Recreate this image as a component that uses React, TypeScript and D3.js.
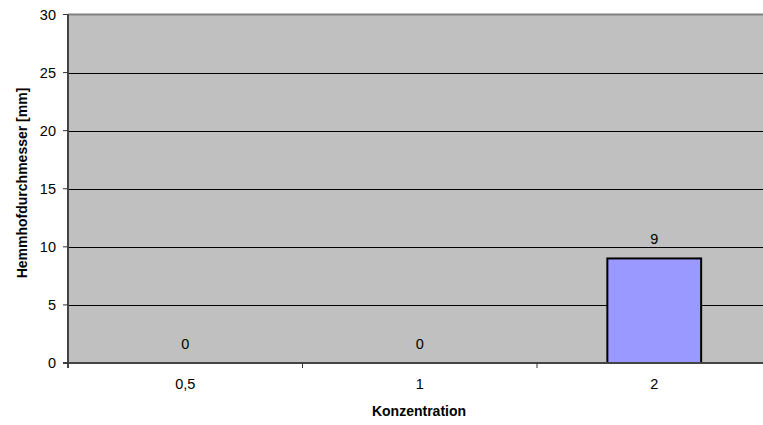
import React from "react";
import * as d3 from "d3";

const categories = ["0,5", "1", "2"];
const values = [0, 0, 9];
const yTicks = [0, 5, 10, 15, 20, 25, 30];

export default function App() {
  const W = 763, H = 425;
  const left = 68, top = 14.5, bottom = 363, right = 771.5;
  const x = d3.scaleBand().domain(categories).range([left, right]).paddingInner(0.6).paddingOuter(0.3);
  const xo = d3.scaleBand().domain(categories).range([left, right]);
  const y = d3.scaleLinear().domain([0, 30]).range([bottom, top]);
  const font = "'Liberation Sans', Arial, sans-serif";
  return (
    <div style={{ position: "fixed", left: 0, top: 0 }}>
      <svg width={W} height={H} style={{ display: "block" }}>
        <rect x={0} y={0} width={W} height={H} fill="#fff" />
        <rect x={left} y={top} width={right - left} height={bottom - top} fill="#C0C0C0" />
        {yTicks.filter(t => t > 0 && t < 30).map(t => (
          <line key={t} x1={left} x2={right} y1={Math.round(y(t)) + 0.5} y2={Math.round(y(t)) + 0.5} stroke="#000" strokeWidth={1} />
        ))}
        <line x1={left} x2={right} y1={top} y2={top} stroke="#808080" strokeWidth={2} />
        {categories.map((c, i) => {
          const v = values[i];
          const bx = x(c)!;
          return v > 0 ? (
            <rect key={c} x={bx} y={y(v)} width={x.bandwidth()} height={bottom - y(v)} fill="#9999FF" stroke="#000" strokeWidth={2} />
          ) : null;
        })}
        <line x1={left} x2={left} y1={top} y2={bottom + 5} stroke="#444" strokeWidth={2} />
        <line x1={left - 5} x2={right} y1={bottom} y2={bottom} stroke="#444" strokeWidth={2} />
        {yTicks.map(t => (
          <g key={t}>
            <line x1={left - 5} x2={left} y1={y(t)} y2={y(t)} stroke="#333" strokeWidth={1} />
            <text x={left - 12} y={y(t)} dy="0.35em" textAnchor="end" fontFamily={font} fontSize={14.5} fill="#000">{t}</text>
          </g>
        ))}
        {categories.map(c => (
          <line key={c} x1={xo(c)! + xo.bandwidth()} x2={xo(c)! + xo.bandwidth()} y1={bottom} y2={bottom + 5} stroke="#333" strokeWidth={1} />
        ))}
        {categories.map(c => (
          <text key={c} x={xo(c)! + xo.bandwidth() / 2} y={389} textAnchor="middle" fontFamily={font} fontSize={14.5} fill="#000">{c}</text>
        ))}
        {categories.map((c, i) => (
          <text key={c} x={xo(c)! + xo.bandwidth() / 2} y={y(values[i]) - 14} textAnchor="middle" fontFamily={font} fontSize={14.5} fill="#000">{values[i]}</text>
        ))}
        <text x={419} y={416} textAnchor="middle" fontFamily={font} fontSize={14} fontWeight="bold" fill="#000">Konzentration</text>
        <text transform={`translate(27,183) rotate(-90)`} textAnchor="middle" fontFamily={font} fontSize={14} fontWeight="bold" fill="#000">Hemmhofdurchmesser [mm]</text>
      </svg>
    </div>
  );
}
